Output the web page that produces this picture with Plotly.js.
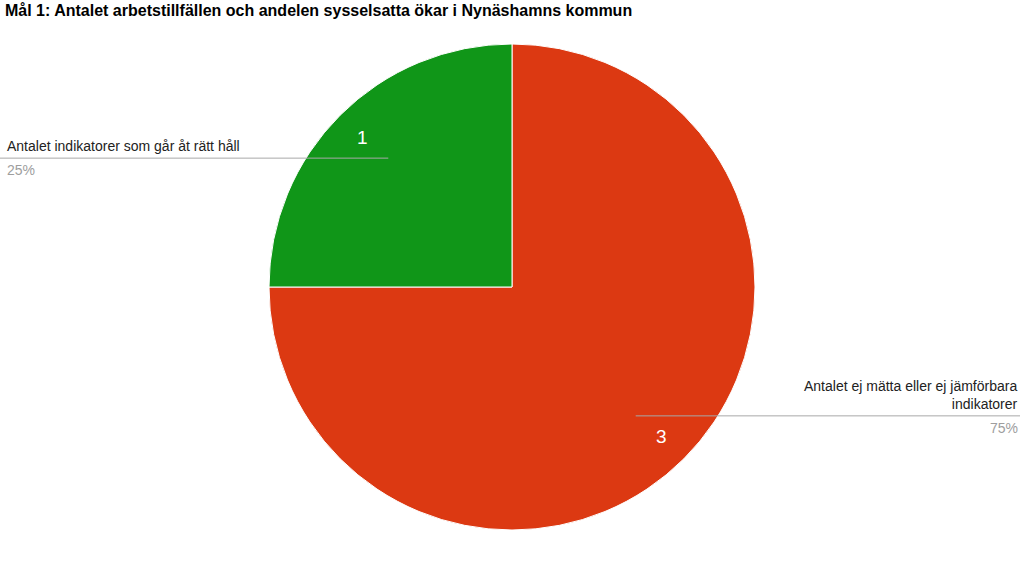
<!DOCTYPE html>
<html>
<head>
<meta charset="utf-8">
<script src="https://cdn.plot.ly/plotly-3.0.1.min.js"></script>
<style>html,body{margin:0;padding:0;background:#fff;}#chart{width:1024px;height:576px;}</style>
</head>
<body>
<div id="chart"></div>
<script>
// Data
var categories = ["Antalet ej mätta eller ej jämförbara<br>indikatorer", "Antalet indikatorer som går åt rätt håll"];
var values = [3, 1];
var colors = ["#dc3912", "#109618"];
var titleText = "Mål 1: Antalet arbetstillfällen och andelen sysselsatta ökar i Nynäshamns kommun";

var W = 1024, H = 576;
// pie geometry (pixels)
var CX = 512, CY = 287, R = 243;

var total = values.reduce(function(a,b){return a+b;},0);
var annotations = [];
var shapes = [];
var cum = 0;
values.forEach(function(v, i){
  var mid = (cum + v/2) / total; cum += v;
  var th = mid * 2 * Math.PI;
  var sx = Math.sin(th), sy = -Math.cos(th);
  // value label inside slice
  var nx = CX + sx * R * 0.87, ny = CY + sy * R * 0.87;
  annotations.push({xref:'paper', yref:'paper', x:nx/W, y:1-ny/H, text:String(v), showarrow:false,
    xanchor:'center', yanchor:'middle', font:{family:'Liberation Sans, Arial', size:19, color:'#ffffff'}});
  // leader line
  var lx = CX + sx * R * 0.72, ly = CY + sy * R * 0.75;
  var right = sx > 0;
  var edge = right ? 1020 : 0;
  shapes.push({type:'line', xref:'paper', yref:'paper', x0:lx/W, x1:edge/W, y0:1-ly/H, y1:1-ly/H,
    line:{color:'#a8a8a8', width:1}});
  var tx = right ? 1020 : 5;
  annotations.push({xref:'paper', yref:'paper', x:tx/W, y:1-(ly-2)/H, text:categories[i], showarrow:false,
    xanchor: right ? 'right':'left', yanchor:'bottom', align: right ? 'right':'left',
    font:{family:'Liberation Sans, Arial', size:14, color:'#222222'}});
  annotations.push({xref:'paper', yref:'paper', x:tx/W, y:1-(ly+2)/H, text:Math.round(v/total*100)+'%', showarrow:false,
    xanchor: right ? 'right':'left', yanchor:'top', align: right ? 'right':'left',
    font:{family:'Liberation Sans, Arial', size:14, color:'#9e9e9e'}});
});

var trace = {
  type:'pie',
  labels:categories,
  values:values,
  sort:false,
  direction:'clockwise',
  rotation:0,
  marker:{colors:colors, line:{color:'#ffffff', width:1}},
  textinfo:'none',
  hoverinfo:'label+value+percent',
  showlegend:false,
  domain:{x:[(CX-R)/W, (CX+R)/W], y:[1-(CY+R)/H, 1-(CY-R)/H]}
};

var layout = {
  width:W, height:H,
  margin:{l:0,r:0,t:0,b:0},
  paper_bgcolor:'#ffffff',
  title:{text:'<b>'+titleText+'</b>', x:5/W, xanchor:'left', xref:'paper', y:1-10/H, yanchor:'middle',
    font:{family:'Liberation Sans, Arial', size:16, color:'#000000'}},
  annotations:annotations,
  shapes:shapes,
  showlegend:false
};

Plotly.newPlot('chart', [trace], layout, {displayModeBar:false, staticPlot:true});
</script>
</body>
</html>
